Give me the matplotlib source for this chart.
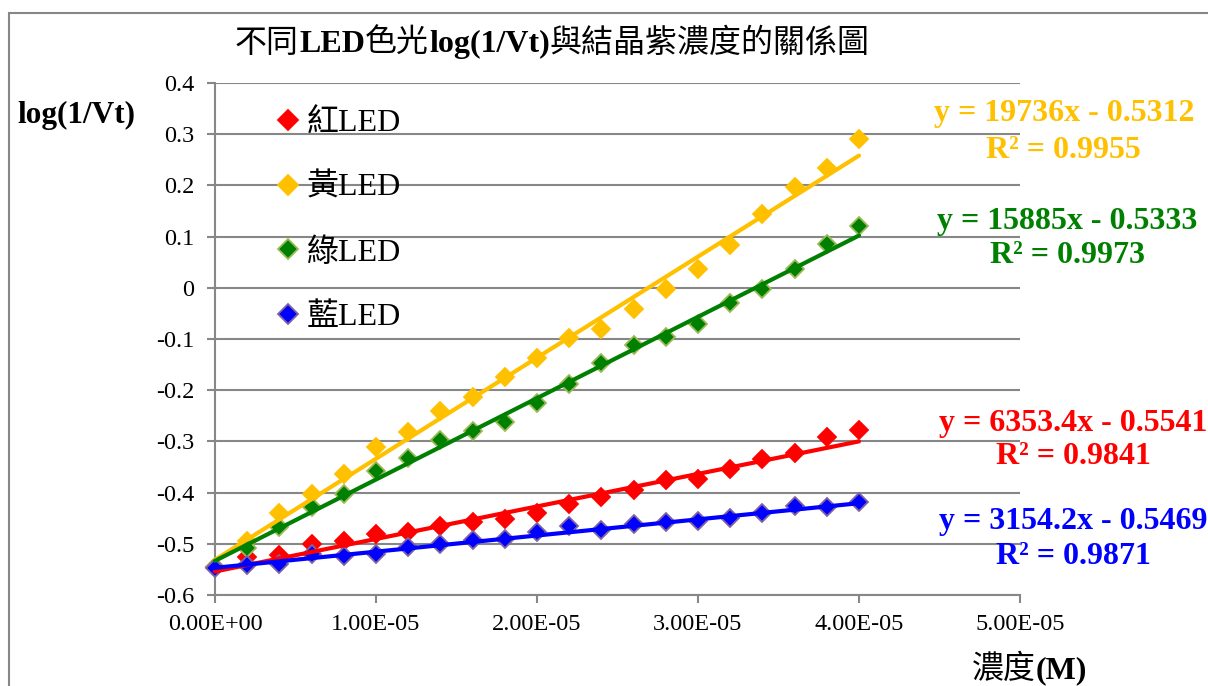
import matplotlib
matplotlib.use("Agg")
import matplotlib.pyplot as plt
from matplotlib.lines import Line2D
from matplotlib.patches import Rectangle

# Crystal violet concentration (M)
conc = [0.0, 2.0e-6, 4.0e-6, 6.0e-6, 8.0e-6, 1.0e-5, 1.2e-5, 1.4e-5, 1.6e-5, 1.8e-5,
        2.0e-5, 2.2e-5, 2.4e-5, 2.6e-5, 2.8e-5, 3.0e-5, 3.2e-5, 3.4e-5, 3.6e-5, 3.8e-5, 4.0e-5]

# log(1/Vt) for each LED colour
red_led = [-0.546, -0.526, -0.521, -0.500, -0.495, -0.480, -0.477, -0.466, -0.457, -0.451,
           -0.440, -0.423, -0.408, -0.395, -0.376, -0.374, -0.354, -0.335, -0.322, -0.291, -0.278]
yellow_led = [-0.546, -0.494, -0.440, -0.403, -0.364, -0.310, -0.282, -0.241, -0.213, -0.175,
              -0.137, -0.099, -0.081, -0.042, -0.002, 0.037, 0.083, 0.145, 0.197, 0.234, 0.290]
green_led = [-0.546, -0.509, -0.467, -0.429, -0.403, -0.358, -0.332, -0.297, -0.280, -0.262,
             -0.225, -0.187, -0.146, -0.112, -0.096, -0.070, -0.029, -0.002, 0.036, 0.086, 0.120]
blue_led = [-0.547, -0.542, -0.539, -0.520, -0.524, -0.519, -0.506, -0.501, -0.493, -0.490,
            -0.477, -0.466, -0.474, -0.461, -0.457, -0.455, -0.449, -0.439, -0.427, -0.428, -0.418]

series_labels = ["紅LED", "黃LED", "綠LED", "藍LED"]
series_values = [red_led, yellow_led, green_led, blue_led]
series_colors = ["#FF0000", "#FFC000", "#008000", "#0000FF"]
marker_edges = ["#FF0000", "#FFC000", "#9BBB59", "#8064A2"]

# Linear trend lines: slope, intercept, R^2
slopes = [6353.4, 19736, 15885, 3154.2]
intercepts = [-0.5541, -0.5312, -0.5333, -0.5469]
r_squared = [0.9841, 0.9955, 0.9973, 0.9871]

y_ticks = [-0.6, -0.5, -0.4, -0.3, -0.2, -0.1, 0.0, 0.1, 0.2, 0.3, 0.4]
y_tick_labels = ["-0.6", "-0.5", "-0.4", "-0.3", "-0.2", "-0.1", "0", "0.1", "0.2", "0.3", "0.4"]
x_ticks = [0.0, 1.0e-5, 2.0e-5, 3.0e-5, 4.0e-5, 5.0e-5]
x_tick_labels = ["0.00E+00", "1.00E-05", "2.00E-05", "3.00E-05", "4.00E-05", "5.00E-05"]

title_parts = [("不同", "normal"), ("LED", "bold"), ("色光", "normal"),
               ("log(1/Vt)", "bold"), ("與結晶紫濃度的關係圖", "normal")]
xlabel_parts = [("濃度", "normal"), ("(M)", "bold")]
ylabel_text = "log(1/Vt)"

FAMILY = ["Liberation Serif", "Noto Sans CJK TC", "DejaVu Sans"]
GRID = "#878787"
W, H = 1208, 686

fig = plt.figure(figsize=(W / 100, H / 100), dpi=100)
fig.patch.set_facecolor("white")


def fx(px):
    return px / W


def fy(py):
    return 1 - py / H


# outer chart frame
fig.add_artist(Rectangle((fx(9), -0.2), 1.3, fy(13) + 0.2, transform=fig.transFigure,
                         fill=False, edgecolor=GRID, linewidth=1.5))

ax = fig.add_axes([fx(215), fy(595), fx(1020) - fx(215), fy(83) - fy(595)])
ax.set_xlim(0, 5e-5)
ax.set_ylim(-0.6, 0.4)
ax.set_yticks(y_ticks, y_tick_labels)
ax.set_xticks(x_ticks, x_tick_labels)
ax.yaxis.grid(True, color=GRID, linewidth=1.5)
ax.set_axisbelow(True)
for side in ("top", "right"):
    ax.spines[side].set_visible(False)
for side in ("left", "bottom"):
    ax.spines[side].set_color(GRID)
    ax.spines[side].set_linewidth(1.5)
ax.tick_params(axis="both", direction="out", length=6, width=1.5, color=GRID,
               labelsize=17.5, labelcolor="black")
ax.tick_params(axis="y", pad=9)
ax.tick_params(axis="x", pad=8)
for lab in ax.get_xticklabels() + ax.get_yticklabels():
    lab.set_family(FAMILY)

# data points
handles = []
for vals, col, edge, lab in zip(series_values, series_colors, marker_edges, series_labels):
    ax.plot(conc, vals, linestyle="none", marker="D", markersize=9.5, markerfacecolor=col,
            markeredgecolor=edge, markeredgewidth=1.3, zorder=3, clip_on=False)
    handles.append(Line2D([], [], linestyle="none", marker="D", markersize=10.5,
                          markerfacecolor=col, markeredgecolor=edge, markeredgewidth=1.3))

# trend lines
for m, b, col in zip(slopes, intercepts, series_colors):
    x0, x1 = conc[0], conc[-1]
    ax.plot([x0, x1], [m * x0 + b, m * x1 + b], color=col, linewidth=3.0,
            solid_capstyle="round", zorder=4, clip_on=False)

fig.legend(handles, series_labels, loc="upper left", bbox_to_anchor=(fx(276), fy(109)),
           frameon=False, borderpad=0, borderaxespad=0, handlelength=0.75,
           handletextpad=0.22, labelspacing=1.1,
           prop={"family": FAMILY, "size": 23})

# trend line equations
eq_pos = [((1073, 423), (1073, 457)), ((1064, 114), (1063, 150)),
          ((1067, 221), (1068, 256)), ((1073, 521), (1073, 556))]
for m, b, r2, col, (p1, p2) in zip(slopes, intercepts, r_squared, series_colors, eq_pos):
    sign = "-" if b < 0 else "+"
    fig.text(fx(p1[0]), fy(p1[1]), f"y = {m:g}x {sign} {abs(b):.4f}", ha="center",
             va="center", fontsize=23, fontweight="bold", color=col, family=FAMILY)
    fig.text(fx(p2[0]), fy(p2[1]), f"R² = {r2:.4f}", ha="center", va="center",
             fontsize=23, fontweight="bold", color=col, family=FAMILY)

renderer = fig.canvas.get_renderer()


def mixed_text(parts, x_px, base_px, size):
    x = x_px
    for s, weight in parts:
        t = fig.text(fx(x), fy(base_px), s, ha="left", va="baseline", fontsize=size,
                     fontweight=weight, family=FAMILY, color="black")
        x += t.get_window_extent(renderer).width


mixed_text(title_parts, 235, 52, 23)
mixed_text(xlabel_parts, 972, 678, 23)
fig.text(fx(17), fy(123), ylabel_text, ha="left", va="baseline", fontsize=22.5,
         fontweight="bold", family=FAMILY)

fig.savefig("out.png", dpi=100, facecolor="white")
